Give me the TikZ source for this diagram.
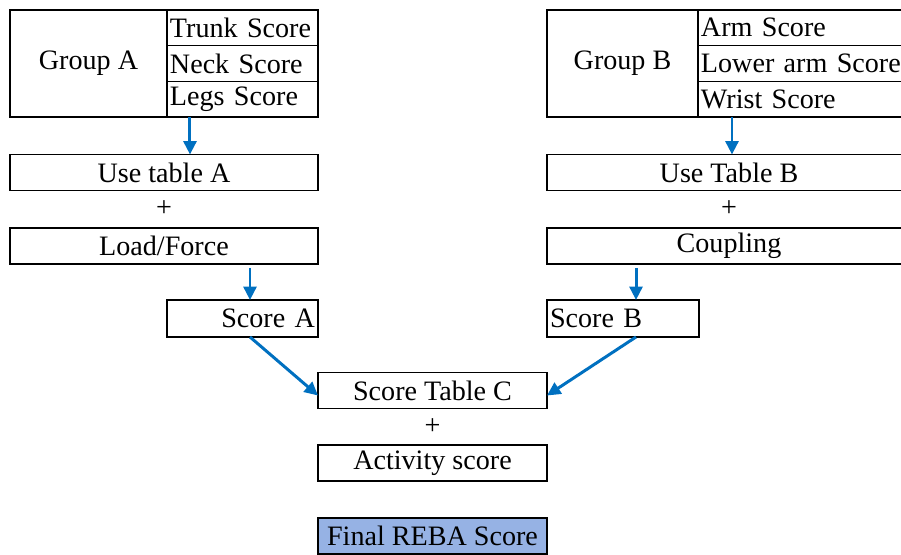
\documentclass[tikz,border=0pt]{standalone}
\usepackage{fontspec}
\setmainfont{Liberation Serif}
\usepackage{xcolor}
\usepackage{tikz}
\usetikzlibrary{arrows.meta, positioning}
\definecolor{rebablue}{RGB}{0, 112, 192}
\definecolor{rebafill}{RGB}{150, 178, 228}
\newcommand{\rebafont}{\fontsize{16}{19}\selectfont}

\begin{document}
\begin{tikzpicture}[
    x=0.02cm, y=-0.02cm,
    box/.style={rectangle, draw=black, line width=0.9pt, outer sep=0pt, minimum height=0.72cm, inner sep=1pt, text centered, font=\rebafont},
    cellA/.style={box, minimum height=0.713cm, text width=2.96cm, inner xsep=0.03cm, align=left},
    cellB/.style={box, minimum height=0.713cm, text width=4.14cm, inner xsep=0.06cm, align=left},
    plus/.style={font=\rebafont, inner sep=0pt},
    arrow/.style={-{Triangle[length=0.27cm, width=0.26cm]}, line width=1.7pt, rebablue}
]
\useasboundingbox (0,0) rectangle (901,554);

% Group A side
\node[box, minimum width=3.14cm, minimum height=2.14cm] (groupA) at (88.5,63.5) {Group A};
\node[cellA, anchor=north west] (trunk) at (groupA.north east) {\hspace{0.03cm}Trunk Score};
\node[cellA, below=0pt of trunk] (neck) {\hspace{0.03cm}Neck Score};
\node[cellA, below=0pt of neck] (legs) {\hspace{0.03cm}Legs Score};

\node[box, minimum width=6.16cm] (useA) at (164,172.5) {Use table A};
\node[plus] (plusA) at (164,209) {+};
\node[box, minimum width=6.16cm] (loadA) at (164,246) {Load/Force};
\node[box, minimum width=3.02cm, minimum height=0.74cm, text width=2.9cm, inner xsep=0.06cm, align=right] (scoreA) at (242.5,318.5) {Score A};

% Group B side
\node[box, minimum width=3.02cm, minimum height=2.14cm] (groupB) at (622.5,63.5) {Group B};
\node[cellB, anchor=north west] (arm) at (groupB.north east) {Arm Score};
\node[cellB, below=0pt of arm] (lowarm) {Lower arm Score};
\node[cellB, below=0pt of lowarm] (wrist) {Wrist Score};

\node[box, minimum width=7.28cm] (useB) at (729,172.5) {Use Table B};
\node[plus] (plusB) at (729,209) {+};
\node[box, minimum width=7.28cm] (coupB) at (729,246) {Coupling};
\node[box, minimum width=3.04cm, minimum height=0.74cm, text width=2.92cm, inner xsep=0.06cm, align=left] (scoreB) at (623,318.5) {Score B};

% final part
\node[box, minimum width=4.58cm] (tableC) at (432.5,390.5) {Score Table C};
\node[plus] (plusC) at (432.5,427) {+};
\node[box, minimum width=4.58cm] (activity) at (432.5,463) {Activity score};
\node[box, minimum width=4.58cm, fill=rebafill] (final) at (432.5,536) {Final REBA Score};

% arrows
\draw[arrow] ([xshift=0.46cm]legs.south west) -- ([xshift=0.46cm]legs.south west |- useA.north);
\draw[arrow] ([xshift=0.68cm]wrist.south west) -- ([xshift=0.68cm]wrist.south west |- useB.north);
\draw[arrow, shorten <=0.08cm] ([xshift=1.66cm]scoreA.north west |- loadA.south) -- ([xshift=1.66cm]scoreA.north west);
\draw[arrow, shorten <=0.08cm] ([xshift=1.78cm]scoreB.north west |- coupB.south) -- ([xshift=1.78cm]scoreB.north west);
\draw[arrow] ([xshift=1.66cm]scoreA.south west) -- ([yshift=-0.1cm]tableC.west);
\draw[arrow] ([xshift=1.78cm]scoreB.south west) -- ([yshift=-0.1cm]tableC.east);

\end{tikzpicture}
\end{document}
